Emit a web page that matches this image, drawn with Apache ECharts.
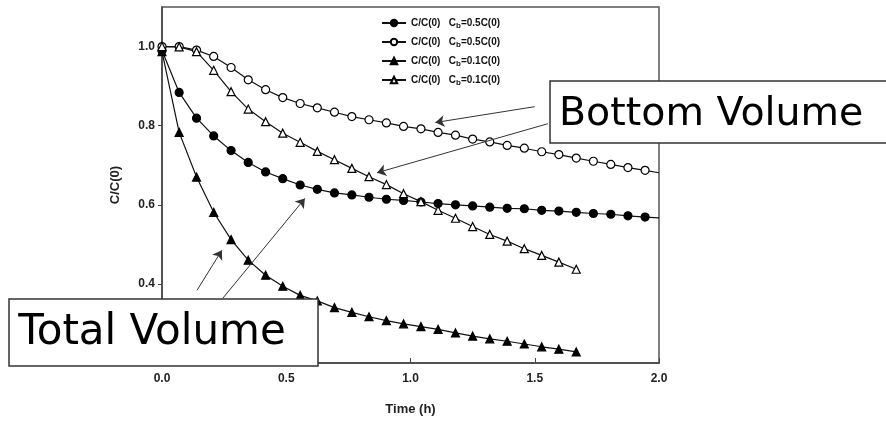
<!DOCTYPE html>
<html>
<head>
<meta charset="utf-8">
<script src="https://cdn.jsdelivr.net/npm/echarts@6/dist/echarts.min.js"></script>
<style>
    html, body {margin: 0; padding: 0; background: #fff;}
    #chart {width: 886px; height: 421px;}
</style>
</head>
<body>
<div id="chart"></div>
<script>
// sampling times (h)
var timeH = [0, 0.069, 0.139, 0.208, 0.278, 0.347, 0.417, 0.486, 0.556, 0.625,
    0.694, 0.764, 0.833, 0.903, 0.972, 1.042, 1.111, 1.181, 1.250, 1.319,
    1.389, 1.458, 1.528, 1.597, 1.667, 1.736, 1.806, 1.875, 1.944];

// C/C(0), Cb=0.5C(0), total volume (filled circles)
var totalHalf = [0.990, 0.884, 0.819, 0.774, 0.737, 0.707, 0.683, 0.666, 0.650, 0.639,
    0.630, 0.625, 0.619, 0.614, 0.611, 0.607, 0.603, 0.600, 0.597, 0.594,
    0.591, 0.590, 0.586, 0.584, 0.581, 0.578, 0.576, 0.572, 0.569];
// C/C(0), Cb=0.5C(0), bottom volume (open circles)
var bottomHalf = [1.000, 1.000, 0.991, 0.975, 0.947, 0.916, 0.891, 0.871, 0.856, 0.845,
    0.834, 0.823, 0.815, 0.807, 0.798, 0.792, 0.783, 0.776, 0.766, 0.759,
    0.750, 0.743, 0.734, 0.727, 0.718, 0.710, 0.702, 0.694, 0.687];
// C/C(0), Cb=0.1C(0), total volume (filled triangles)
var totalTenth = [0.987, 0.783, 0.670, 0.581, 0.512, 0.460, 0.422, 0.394, 0.371, 0.357,
    0.340, 0.328, 0.317, 0.307, 0.299, 0.292, 0.285, 0.276, 0.268, 0.261,
    0.255, 0.248, 0.241, 0.235, 0.228];
// C/C(0), Cb=0.1C(0), bottom volume (open triangles)
var bottomTenth = [1.000, 0.999, 0.987, 0.940, 0.886, 0.842, 0.810, 0.781, 0.758, 0.735,
    0.714, 0.692, 0.671, 0.651, 0.628, 0.608, 0.586, 0.566, 0.545, 0.525,
    0.508, 0.489, 0.472, 0.455, 0.437];

// curve end at t=2.0 (line only, no marker)
var tailTime = 2.0;
var totalHalfTail = 0.567;
var bottomHalfTail = 0.681;

var yTicks = [0.2, 0.4, 0.6, 0.8, 1.0];
var seriesNames = ['half-total', 'half-bottom', 'tenth-total', 'tenth-bottom'];
var cbLabels = ['0.5C(0)', '0.5C(0)', '0.1C(0)', '0.1C(0)'];

// annotation arrows [from, to] in data coords
var arrowLines = [
    [[1.50, 0.848], [1.10, 0.808]],
    [[1.553, 0.805], [0.865, 0.681]],
    [[0.141, 0.384], [0.241, 0.485]],
    [[0.245, 0.364], [0.575, 0.616]]
];

function pairs(ys) {
    return ys.map(function (v, i) { return [timeH[i], v]; });
}

var chart = echarts.init(document.getElementById('chart'));

var labelFont = {fontFamily: '"Liberation Sans", Arial', fontWeight: 'bold', color: '#222'};

function lineSeries(name, data, symbol, filled, size) {
    return {
        name: name,
        type: 'line',
        data: data,
        symbol: symbol,
        symbolSize: size,
        showAllSymbol: true,
        lineStyle: {color: '#111', width: 1.2},
        itemStyle: {color: filled ? '#000' : '#fff', borderColor: '#000', borderWidth: 1.2},
        emphasis: {disabled: true},
        z: filled ? 3 : 4
    };
}

var s1 = lineSeries(seriesNames[0], pairs(totalHalf).concat([{value: [tailTime, totalHalfTail], symbol: 'none'}]), 'circle', true, 8);
var s2 = lineSeries(seriesNames[1], pairs(bottomHalf).concat([{value: [tailTime, bottomHalfTail], symbol: 'none'}]), 'circle', false, 8);
var s3 = lineSeries(seriesNames[2], pairs(totalTenth), 'triangle', true, 8);
var s4 = lineSeries(seriesNames[3], pairs(bottomTenth), 'triangle', false, 8);

s1.markLine = {
    silent: true,
    animation: false,
    symbol: ['none', 'arrow'],
    symbolSize: 9,
    label: {show: false},
    lineStyle: {color: '#333', width: 1, type: 'solid'},
    itemStyle: {color: '#333'},
    data: arrowLines.map(function (a) {
        return [{coord: a[0]}, {coord: a[1]}];
    })
};

var option = {
    animation: false,
    backgroundColor: '#fff',
    grid: {
        left: 162, right: 227, top: 7, bottom: 58,
        show: true, borderColor: '#555', borderWidth: 1.5, backgroundColor: 'transparent'
    },
    legend: {
        orient: 'vertical',
        left: 376,
        top: 13,
        itemWidth: 24,
        itemHeight: 8,
        itemGap: 7,
        data: seriesNames,
        formatter: function (name) {
            var i = seriesNames.indexOf(name);
            return '{a|C/C(0)   C}{s|b}{a|=' + cbLabels[i] + '}';
        },
        textStyle: {
            rich: {
                a: {fontSize: 10, fontWeight: 'bold', fontFamily: '"Liberation Sans", Arial', color: '#111'},
                s: {fontSize: 8, fontWeight: 'bold', fontFamily: '"Liberation Sans", Arial', color: '#111', padding: [6, 0, 0, 0]}
            }
        }
    },
    xAxis: {
        type: 'value',
        min: 0, max: 2.0, interval: 0.5,
        name: 'Time (h)',
        nameLocation: 'middle',
        nameGap: 40,
        nameTextStyle: {fontFamily: '"Liberation Sans", Arial', fontWeight: 'bold', fontSize: 13, color: '#222'},
        axisLine: {lineStyle: {color: '#444', width: 1.5}},
        axisTick: {inside: true, length: 5, lineStyle: {color: '#444'}},
        axisLabel: Object.assign({fontSize: 12, margin: 10, formatter: function (v) { return v.toFixed(1); }}, labelFont),
        splitLine: {show: false}
    },
    yAxis: {
        type: 'value',
        min: 0.2, max: 1.1, interval: 0.2,
        name: 'C/C(0)',
        nameLocation: 'middle',
        nameGap: 40,
        nameTextStyle: {fontFamily: '"Liberation Sans", Arial', fontWeight: 'bold', fontSize: 13, color: '#222'},
        axisLine: {lineStyle: {color: '#444', width: 1.5}},
        axisTick: {inside: false, length: 4, lineStyle: {color: '#444'}, customValues: yTicks},
        axisLabel: Object.assign({fontSize: 12, margin: 7, customValues: yTicks,
            formatter: function (v) { return v > 1.05 ? '' : v.toFixed(1); }}, labelFont),
        splitLine: {show: false}
    },
    series: [s1, s2, s3, s4],
    graphic: [
        {type: 'rect', z: 100, shape: {x: 9, y: 299, width: 309, height: 67},
            style: {fill: '#fff', stroke: '#333', lineWidth: 1.5}},
        {type: 'text', z: 101, x: 152, y: 333,
            style: {text: 'Total Volume', font: '42px "DejaVu Sans"', fill: '#000',
                align: 'center', verticalAlign: 'middle', textAlign: 'center', textVerticalAlign: 'middle'}},
        {type: 'rect', z: 100, shape: {x: 550, y: 81, width: 345, height: 62},
            style: {fill: '#fff', stroke: '#333', lineWidth: 1.5}},
        {type: 'text', z: 101, x: 559, y: 115,
            style: {text: 'Bottom Volume', font: '39.5px "DejaVu Sans"', fill: '#000',
                align: 'left', verticalAlign: 'middle', textAlign: 'left', textVerticalAlign: 'middle'}}
    ]
};

chart.setOption(option);
</script>
</body>
</html>
